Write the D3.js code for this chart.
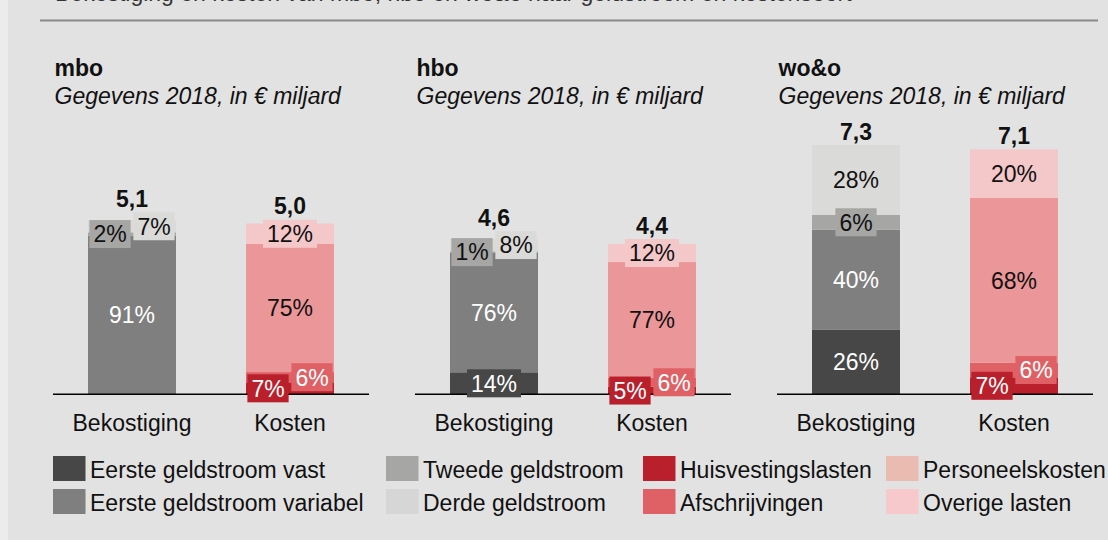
<!DOCTYPE html>
<html>
<head>
<meta charset="utf-8">
<script src="https://cdn.jsdelivr.net/npm/d3@7"></script>
<style>
  html, body { margin: 0; padding: 0; background: #e2e2e2; }
  svg { display: block; font-family: "Liberation Sans", Arial, sans-serif; }
</style>
</head>
<body>
<svg id="chart" width="1108" height="540"></svg>
<script>
// Sectors and the two stacked columns per sector
const sectors = ["mbo", "hbo", "wo&o"];
const subtitle = "Gegevens 2018, in € miljard";
const columns = ["Bekostiging", "Kosten"];

// Funding streams (bottom to top) and cost types (bottom to top)
const incomeSeries = ["Eerste geldstroom vast", "Eerste geldstroom variabel", "Tweede geldstroom", "Derde geldstroom"];
const costSeries = ["Huisvestingslasten", "Afschrijvingen", "Personeelskosten", "Overige lasten"];

// Totals in € miljard per sector
const incomeTotals = [5.1, 4.6, 7.3];
const costTotals = [5.0, 4.4, 7.1];

// Shares in % per sector, in series order
const incomeShares = [
  [0, 91, 2, 7],
  [14, 76, 1, 8],
  [26, 40, 6, 28]
];
const costShares = [
  [7, 6, 75, 12],
  [5, 6, 77, 12],
  [7, 6, 68, 20]
];

const titleText = "Bekostiging en kosten van mbo, hbo en wo&o naar geldstroom en kostensoort";

// Colours
const barColor = d3.scaleOrdinal()
  .domain(incomeSeries.concat(costSeries))
  .range(["#474747", "#7f7f7f", "#a6a6a5", "#dadad8", "#ba1f2c", "#e06165", "#eb9698", "#f4c7c9"]);
const swatchColor = d3.scaleOrdinal()
  .domain(incomeSeries.concat(costSeries))
  .range(["#474747", "#7f7f7f", "#a6a6a5", "#d5d6d5", "#ba1f2c", "#e06165", "#e9bbb1", "#f7c9cc"]);
const labelInk = d3.scaleOrdinal()
  .domain(incomeSeries.concat(costSeries))
  .range(["#ffffff", "#ffffff", "#111111", "#111111", "#ffffff", "#ffffff", "#111111", "#111111"]);

const svg = d3.select("#chart");
const FONT = 23;

// Background
svg.append("rect").attr("x", 0).attr("y", 0).attr("width", 1108).attr("height", 540).attr("fill", "#ececec");
svg.append("rect").attr("x", 8).attr("y", 0).attr("width", 1100).attr("height", 540).attr("fill", "#e2e2e2");

// Heading (runs off the top edge) and rule
svg.append("text").attr("x", 55).attr("y", 0.5)
  .attr("font-size", FONT).attr("fill", "#333").text(titleText);
svg.append("line").attr("x1", 40).attr("x2", 1098).attr("y1", 20.5).attr("y2", 20.5)
  .attr("stroke", "#8a8a8a").attr("stroke-width", 1.8);

// Shared value scale
const baseY = 394.3;
const y = d3.scaleLinear().domain([0, 7.3]).range([baseY, 145]);

const panelX = [53, 415, 777];
const panelW = 316;

sectors.forEach((sector, si) => {
  const ox = panelX[si];
  const g = svg.append("g");

  g.append("text").attr("x", ox + 1.5).attr("y", 76)
    .attr("font-size", FONT).attr("font-weight", "bold").attr("fill", "#111").text(sector);
  g.append("text").attr("x", ox + 1.5).attr("y", 104)
    .attr("font-size", FONT).attr("font-style", "italic").attr("fill", "#111").text(subtitle);

  const x = d3.scaleBand().domain(columns).range([ox, ox + panelW])
    .paddingInner(0.443).paddingOuter(0.2215);

  const stacks = [
    { col: columns[0], total: incomeTotals[si], series: incomeSeries, shares: incomeShares[si] },
    { col: columns[1], total: costTotals[si], series: costSeries, shares: costShares[si] }
  ];

  const barLayer = g.append("g");
  const axisLayer = g.append("g");
  const labelLayer = g.append("g");

  // Baseline
  axisLayer.append("line").attr("x1", ox).attr("x2", ox + panelW)
    .attr("y1", baseY).attr("y2", baseY).attr("stroke", "#000").attr("stroke-width", 1.6);

  stacks.forEach(st => {
    let acc = 0;
    const segs = st.series.map((name, i) => {
      const v = st.total * st.shares[i] / 100;
      const s = { name, pct: st.shares[i], y0: acc, y1: acc + v };
      acc += v;
      return s;
    }).filter(s => s.pct > 0);

    const bx = x(st.col), bw = x.bandwidth(), cx = bx + bw / 2;

    barLayer.selectAll(null).data(segs).enter().append("rect")
      .attr("x", bx).attr("width", bw)
      .attr("y", d => y(d.y1)).attr("height", d => y(d.y0) - y(d.y1))
      .attr("fill", d => barColor(d.name));

    // Thin segments get a boxed label; neighbouring thin segments are split left/right
    segs.forEach(s => { s.boxed = (y(s.y0) - y(s.y1)) < 30; });
    const runs = [];
    segs.forEach((s, i) => {
      if (!s.boxed) return;
      if (i > 0 && segs[i - 1].boxed) runs[runs.length - 1].push(s);
      else runs.push([s]);
    });
    runs.forEach(run => {
      run.forEach((s, k) => { s.dx = run.length === 1 ? 0 : (k === 0 ? -22 : 22); });
    });

    let topMost = y(acc);
    segs.forEach(s => {
      const cy = (y(s.y0) + y(s.y1)) / 2;
      const lx = cx + (s.boxed ? s.dx : 0);
      const lbl = s.pct + "%";
      if (s.boxed) {
        const box = labelLayer.append("rect").attr("fill", barColor(s.name));
        const t = labelLayer.append("text").attr("x", lx).attr("y", cy).attr("dy", "0.36em")
          .attr("text-anchor", "middle").attr("font-size", FONT)
          .attr("fill", labelInk(s.name)).text(lbl);
        const w = t.node().getComputedTextLength() + 8;
        box.attr("x", lx - w / 2).attr("y", cy - 14).attr("width", w).attr("height", 28);
        topMost = Math.min(topMost, cy - 14);
      } else {
        labelLayer.append("text").attr("x", lx).attr("y", cy).attr("dy", "0.36em")
          .attr("text-anchor", "middle").attr("font-size", FONT)
          .attr("fill", labelInk(s.name)).text(lbl);
      }
    });

    // Column total
    labelLayer.append("text").attr("x", cx).attr("y", topMost - 5.5)
      .attr("text-anchor", "middle").attr("font-size", FONT).attr("font-weight", "bold")
      .attr("fill", "#111").text(st.total.toFixed(1).replace(".", ","));

    // Column name
    labelLayer.append("text").attr("x", cx).attr("y", 430.5)
      .attr("text-anchor", "middle").attr("font-size", FONT).attr("fill", "#111").text(st.col);
  });
});

// Legend: two rows, four columns
const legendItems = incomeSeries.concat(costSeries);
const legendColX = [53, 386, 643, 886];
const legend = svg.append("g");
legendItems.forEach((name, i) => {
  const col = Math.floor(i / 2), row = i % 2;
  const lx = legendColX[col];
  const ly = 456 + row * 33;
  legend.append("rect").attr("x", lx).attr("y", ly).attr("width", 32.5).attr("height", 25)
    .attr("fill", swatchColor(name));
  legend.append("text").attr("x", lx + 37).attr("y", ly + 21.5)
    .attr("font-size", FONT).attr("fill", "#111").text(name);
});
</script>
</body>
</html>
